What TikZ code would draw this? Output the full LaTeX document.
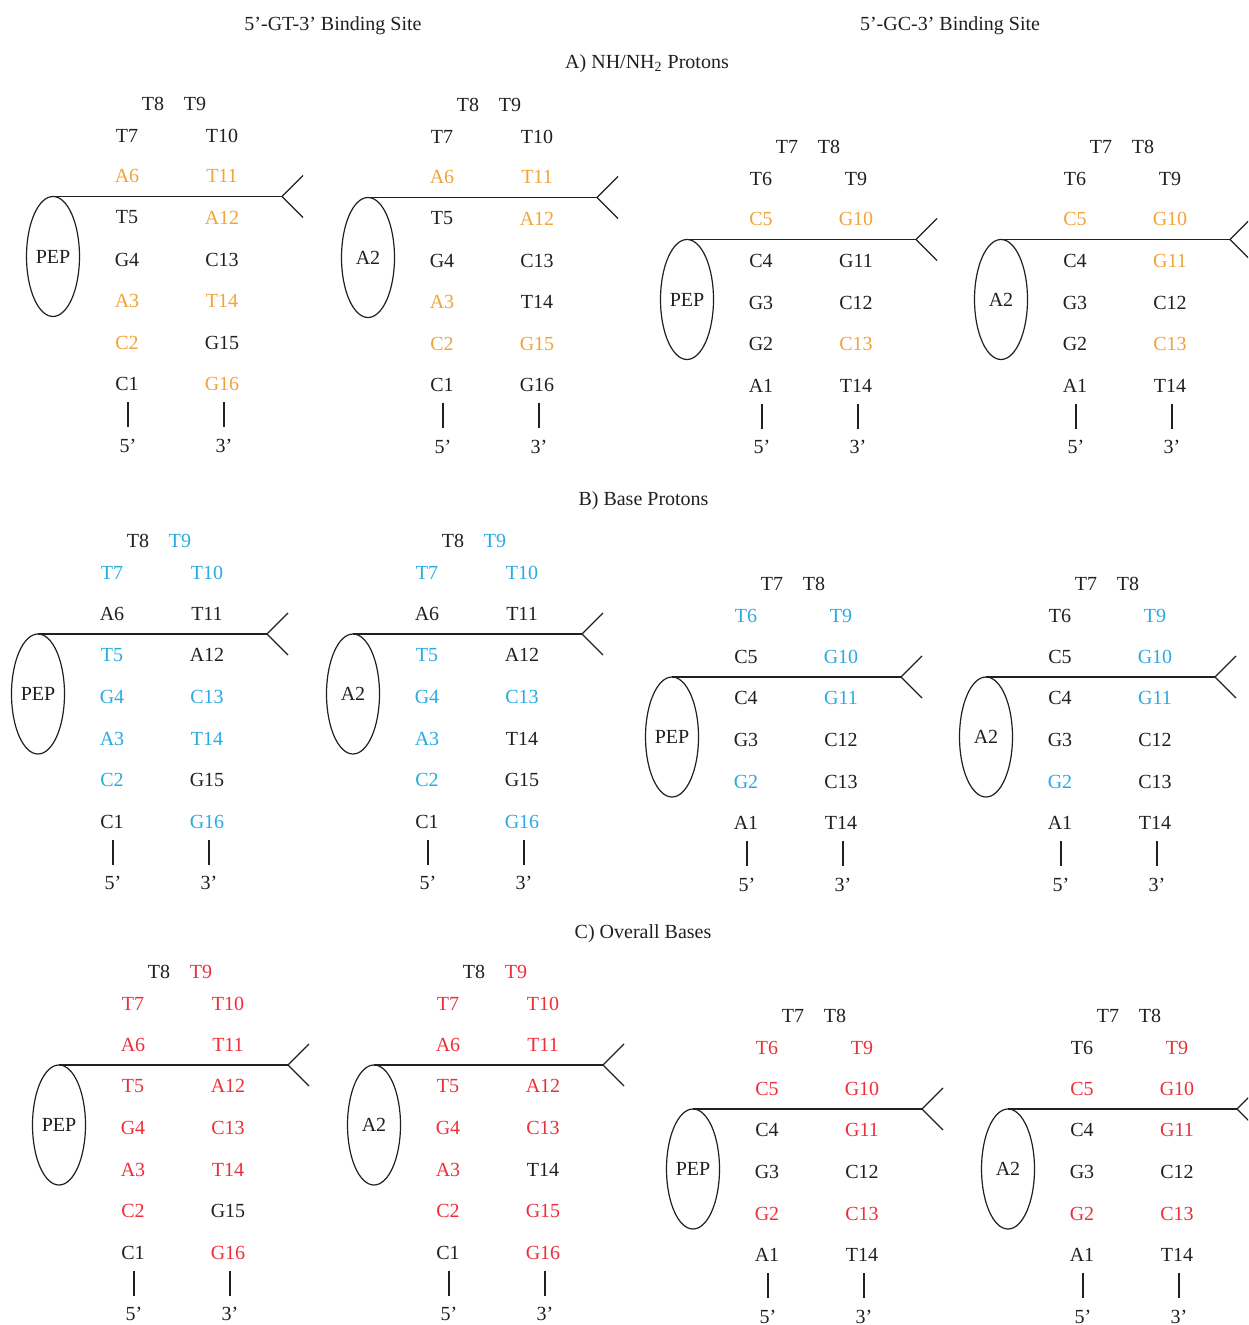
\documentclass[tikz,border=0pt]{standalone}
\usepackage{fontspec}
\setmainfont{Liberation Serif}
\usetikzlibrary{shapes.geometric}

\definecolor{nhorange}{HTML}{F2A33A}
\definecolor{baseblue}{HTML}{29ABE2}
\definecolor{allred}{HTML}{ED2F3A}
\definecolor{ink}{HTML}{231F20}

\tikzset{
  lab/.style={inner sep=0pt, outer sep=0pt, text=ink, font=\fontsize{10}{12}\selectfont},
  head/.style={lab, anchor=base},
  ligand/.style={draw=ink, ellipse, line width=0.6pt, minimum width=26.5pt, minimum height=60pt,
    inner sep=0pt, outer sep=0pt, text=ink, font=\fontsize{10}{12}\selectfont},
  strand/.style={draw=ink, line width=0.6pt},
  tick/.style={strand, shorten <=5.75pt, shorten >=5.75pt},
}

% ligand loop, hairpin end and 5'/3' ends of one duplex
% #1 ligand, #2 last 5' base, #3 last 3' base, #4 row of the last bases
\newcommand{\hairpin}[4]{%
  \node[ligand] (lig) at (-74,60) {#1};
  \coordinate (fork) at (155,0);
  \coordinate (forkup) at (176,-21);
  \coordinate (forkdn) at (176,21);
  \draw[strand] (lig.north) -- (fork);
  \draw[strand] (forkup) -- (fork) -- (forkdn);
  \node[lab] (five) at (1,#4+61.5) {5’};
  \node[lab] (three) at (97,#4+61.5) {3’};
  \draw[tick] (five |- #2.south) -- (five);
  \draw[tick] (three |- #3.south) -- (three);
}

\begin{document}
\begin{tikzpicture}[x=0.5pt, y=-0.5pt]
\path[use as bounding box, fill=white] (0,0) rectangle (1248,1325);
\clip (0,0) rectangle (1248,1325);

% Headings
\node[head] (gtsite) at (333,30.6) {5’-GT-3’ Binding Site};
\node[head] (gcsite) at (950,30.6) {5’-GC-3’ Binding Site};
\node[head] (parta) at (647,68.3) {A) NH/NH\textsubscript{2} Protons};
\node[head] (partb) at (643.5,505.6) {B) Base Protons};
\node[head] (partc) at (643,938.6) {C) Overall Bases};

% A) NH/NH2 protons
\begin{scope}[hl/.style={text=nhorange}]
\begin{scope}[shift={(127,196.5)}, name prefix=agp-]
  \node[lab] (t8) at (26,-93) {T8};       \node[lab] (t9) at (68,-93) {T9};
  \node[lab] (t7) at (0,-61) {T7};        \node[lab] (t10) at (95,-61) {T10};
  \node[lab,hl] (a6) at (0,-20.5) {A6};   \node[lab,hl] (t11) at (95,-20.5) {T11};
  \node[lab] (t5) at (0,21) {T5};         \node[lab,hl] (a12) at (95,21) {A12};
  \node[lab] (g4) at (0,63) {G4};         \node[lab] (c13) at (95,63) {C13};
  \node[lab,hl] (a3) at (0,104.5) {A3};   \node[lab,hl] (t14) at (95,104.5) {T14};
  \node[lab,hl] (c2) at (0,146) {C2};     \node[lab] (g15) at (95,146) {G15};
  \node[lab] (c1) at (0,187.5) {C1};      \node[lab,hl] (g16) at (95,187.5) {G16};
  \hairpin{PEP}{c1}{g16}{187.5}
\end{scope}
\begin{scope}[shift={(442,197.5)}, name prefix=aga-]
  \node[lab] (t8) at (26,-93) {T8};       \node[lab] (t9) at (68,-93) {T9};
  \node[lab] (t7) at (0,-61) {T7};        \node[lab] (t10) at (95,-61) {T10};
  \node[lab,hl] (a6) at (0,-20.5) {A6};   \node[lab,hl] (t11) at (95,-20.5) {T11};
  \node[lab] (t5) at (0,21) {T5};         \node[lab,hl] (a12) at (95,21) {A12};
  \node[lab] (g4) at (0,63) {G4};         \node[lab] (c13) at (95,63) {C13};
  \node[lab,hl] (a3) at (0,104.5) {A3};   \node[lab] (t14) at (95,104.5) {T14};
  \node[lab,hl] (c2) at (0,146) {C2};     \node[lab,hl] (g15) at (95,146) {G15};
  \node[lab] (c1) at (0,187.5) {C1};      \node[lab] (g16) at (95,187.5) {G16};
  \hairpin{A2}{c1}{g16}{187.5}
\end{scope}
\begin{scope}[shift={(761,239.5)}, name prefix=acp-]
  \node[lab] (t7) at (26,-93) {T7};       \node[lab] (t8) at (68,-93) {T8};
  \node[lab] (t6) at (0,-61) {T6};        \node[lab] (t9) at (95,-61) {T9};
  \node[lab,hl] (c5) at (0,-20.5) {C5};   \node[lab,hl] (g10) at (95,-20.5) {G10};
  \node[lab] (c4) at (0,21) {C4};         \node[lab] (g11) at (95,21) {G11};
  \node[lab] (g3) at (0,63) {G3};         \node[lab] (c12) at (95,63) {C12};
  \node[lab] (g2) at (0,104.5) {G2};      \node[lab,hl] (c13) at (95,104.5) {C13};
  \node[lab] (a1) at (0,146) {A1};        \node[lab] (t14) at (95,146) {T14};
  \hairpin{PEP}{a1}{t14}{146}
\end{scope}
\begin{scope}[shift={(1075,239.5)}, name prefix=aca-]
  \node[lab] (t7) at (26,-93) {T7};       \node[lab] (t8) at (68,-93) {T8};
  \node[lab] (t6) at (0,-61) {T6};        \node[lab] (t9) at (95,-61) {T9};
  \node[lab,hl] (c5) at (0,-20.5) {C5};   \node[lab,hl] (g10) at (95,-20.5) {G10};
  \node[lab] (c4) at (0,21) {C4};         \node[lab,hl] (g11) at (95,21) {G11};
  \node[lab] (g3) at (0,63) {G3};         \node[lab] (c12) at (95,63) {C12};
  \node[lab] (g2) at (0,104.5) {G2};      \node[lab,hl] (c13) at (95,104.5) {C13};
  \node[lab] (a1) at (0,146) {A1};        \node[lab] (t14) at (95,146) {T14};
  \hairpin{A2}{a1}{t14}{146}
\end{scope}
\end{scope}

% B) Base protons
\begin{scope}[hl/.style={text=baseblue}]
\begin{scope}[shift={(112,634)}, name prefix=bgp-]
  \node[lab] (t8) at (26,-93) {T8};       \node[lab,hl] (t9) at (68,-93) {T9};
  \node[lab,hl] (t7) at (0,-61) {T7};     \node[lab,hl] (t10) at (95,-61) {T10};
  \node[lab] (a6) at (0,-20.5) {A6};      \node[lab] (t11) at (95,-20.5) {T11};
  \node[lab,hl] (t5) at (0,21) {T5};      \node[lab] (a12) at (95,21) {A12};
  \node[lab,hl] (g4) at (0,63) {G4};      \node[lab,hl] (c13) at (95,63) {C13};
  \node[lab,hl] (a3) at (0,104.5) {A3};   \node[lab,hl] (t14) at (95,104.5) {T14};
  \node[lab,hl] (c2) at (0,146) {C2};     \node[lab] (g15) at (95,146) {G15};
  \node[lab] (c1) at (0,187.5) {C1};      \node[lab,hl] (g16) at (95,187.5) {G16};
  \hairpin{PEP}{c1}{g16}{187.5}
\end{scope}
\begin{scope}[shift={(427,634)}, name prefix=bga-]
  \node[lab] (t8) at (26,-93) {T8};       \node[lab,hl] (t9) at (68,-93) {T9};
  \node[lab,hl] (t7) at (0,-61) {T7};     \node[lab,hl] (t10) at (95,-61) {T10};
  \node[lab] (a6) at (0,-20.5) {A6};      \node[lab] (t11) at (95,-20.5) {T11};
  \node[lab,hl] (t5) at (0,21) {T5};      \node[lab] (a12) at (95,21) {A12};
  \node[lab,hl] (g4) at (0,63) {G4};      \node[lab,hl] (c13) at (95,63) {C13};
  \node[lab,hl] (a3) at (0,104.5) {A3};   \node[lab] (t14) at (95,104.5) {T14};
  \node[lab,hl] (c2) at (0,146) {C2};     \node[lab] (g15) at (95,146) {G15};
  \node[lab] (c1) at (0,187.5) {C1};      \node[lab,hl] (g16) at (95,187.5) {G16};
  \hairpin{A2}{c1}{g16}{187.5}
\end{scope}
\begin{scope}[shift={(746,677)}, name prefix=bcp-]
  \node[lab] (t7) at (26,-93) {T7};       \node[lab] (t8) at (68,-93) {T8};
  \node[lab,hl] (t6) at (0,-61) {T6};     \node[lab,hl] (t9) at (95,-61) {T9};
  \node[lab] (c5) at (0,-20.5) {C5};      \node[lab,hl] (g10) at (95,-20.5) {G10};
  \node[lab] (c4) at (0,21) {C4};         \node[lab,hl] (g11) at (95,21) {G11};
  \node[lab] (g3) at (0,63) {G3};         \node[lab] (c12) at (95,63) {C12};
  \node[lab,hl] (g2) at (0,104.5) {G2};   \node[lab] (c13) at (95,104.5) {C13};
  \node[lab] (a1) at (0,146) {A1};        \node[lab] (t14) at (95,146) {T14};
  \hairpin{PEP}{a1}{t14}{146}
\end{scope}
\begin{scope}[shift={(1060,677)}, name prefix=bca-]
  \node[lab] (t7) at (26,-93) {T7};       \node[lab] (t8) at (68,-93) {T8};
  \node[lab] (t6) at (0,-61) {T6};        \node[lab,hl] (t9) at (95,-61) {T9};
  \node[lab] (c5) at (0,-20.5) {C5};      \node[lab,hl] (g10) at (95,-20.5) {G10};
  \node[lab] (c4) at (0,21) {C4};         \node[lab,hl] (g11) at (95,21) {G11};
  \node[lab] (g3) at (0,63) {G3};         \node[lab] (c12) at (95,63) {C12};
  \node[lab,hl] (g2) at (0,104.5) {G2};   \node[lab] (c13) at (95,104.5) {C13};
  \node[lab] (a1) at (0,146) {A1};        \node[lab] (t14) at (95,146) {T14};
  \hairpin{A2}{a1}{t14}{146}
\end{scope}
\end{scope}

% C) Overall bases
\begin{scope}[hl/.style={text=allred}]
\begin{scope}[shift={(133,1065)}, name prefix=cgp-]
  \node[lab] (t8) at (26,-93) {T8};       \node[lab,hl] (t9) at (68,-93) {T9};
  \node[lab,hl] (t7) at (0,-61) {T7};     \node[lab,hl] (t10) at (95,-61) {T10};
  \node[lab,hl] (a6) at (0,-20.5) {A6};   \node[lab,hl] (t11) at (95,-20.5) {T11};
  \node[lab,hl] (t5) at (0,21) {T5};      \node[lab,hl] (a12) at (95,21) {A12};
  \node[lab,hl] (g4) at (0,63) {G4};      \node[lab,hl] (c13) at (95,63) {C13};
  \node[lab,hl] (a3) at (0,104.5) {A3};   \node[lab,hl] (t14) at (95,104.5) {T14};
  \node[lab,hl] (c2) at (0,146) {C2};     \node[lab] (g15) at (95,146) {G15};
  \node[lab] (c1) at (0,187.5) {C1};      \node[lab,hl] (g16) at (95,187.5) {G16};
  \hairpin{PEP}{c1}{g16}{187.5}
\end{scope}
\begin{scope}[shift={(448,1065)}, name prefix=cga-]
  \node[lab] (t8) at (26,-93) {T8};       \node[lab,hl] (t9) at (68,-93) {T9};
  \node[lab,hl] (t7) at (0,-61) {T7};     \node[lab,hl] (t10) at (95,-61) {T10};
  \node[lab,hl] (a6) at (0,-20.5) {A6};   \node[lab,hl] (t11) at (95,-20.5) {T11};
  \node[lab,hl] (t5) at (0,21) {T5};      \node[lab,hl] (a12) at (95,21) {A12};
  \node[lab,hl] (g4) at (0,63) {G4};      \node[lab,hl] (c13) at (95,63) {C13};
  \node[lab,hl] (a3) at (0,104.5) {A3};   \node[lab] (t14) at (95,104.5) {T14};
  \node[lab,hl] (c2) at (0,146) {C2};     \node[lab,hl] (g15) at (95,146) {G15};
  \node[lab] (c1) at (0,187.5) {C1};      \node[lab,hl] (g16) at (95,187.5) {G16};
  \hairpin{A2}{c1}{g16}{187.5}
\end{scope}
\begin{scope}[shift={(767,1109)}, name prefix=ccp-]
  \node[lab] (t7) at (26,-93) {T7};       \node[lab] (t8) at (68,-93) {T8};
  \node[lab,hl] (t6) at (0,-61) {T6};     \node[lab,hl] (t9) at (95,-61) {T9};
  \node[lab,hl] (c5) at (0,-20.5) {C5};   \node[lab,hl] (g10) at (95,-20.5) {G10};
  \node[lab] (c4) at (0,21) {C4};         \node[lab,hl] (g11) at (95,21) {G11};
  \node[lab] (g3) at (0,63) {G3};         \node[lab] (c12) at (95,63) {C12};
  \node[lab,hl] (g2) at (0,104.5) {G2};   \node[lab,hl] (c13) at (95,104.5) {C13};
  \node[lab] (a1) at (0,146) {A1};        \node[lab] (t14) at (95,146) {T14};
  \hairpin{PEP}{a1}{t14}{146}
\end{scope}
\begin{scope}[shift={(1082,1109)}, name prefix=cca-]
  \node[lab] (t7) at (26,-93) {T7};       \node[lab] (t8) at (68,-93) {T8};
  \node[lab] (t6) at (0,-61) {T6};        \node[lab,hl] (t9) at (95,-61) {T9};
  \node[lab,hl] (c5) at (0,-20.5) {C5};   \node[lab,hl] (g10) at (95,-20.5) {G10};
  \node[lab] (c4) at (0,21) {C4};         \node[lab,hl] (g11) at (95,21) {G11};
  \node[lab] (g3) at (0,63) {G3};         \node[lab] (c12) at (95,63) {C12};
  \node[lab,hl] (g2) at (0,104.5) {G2};   \node[lab,hl] (c13) at (95,104.5) {C13};
  \node[lab] (a1) at (0,146) {A1};        \node[lab] (t14) at (95,146) {T14};
  \hairpin{A2}{a1}{t14}{146}
\end{scope}
\end{scope}

\end{tikzpicture}
\end{document}
